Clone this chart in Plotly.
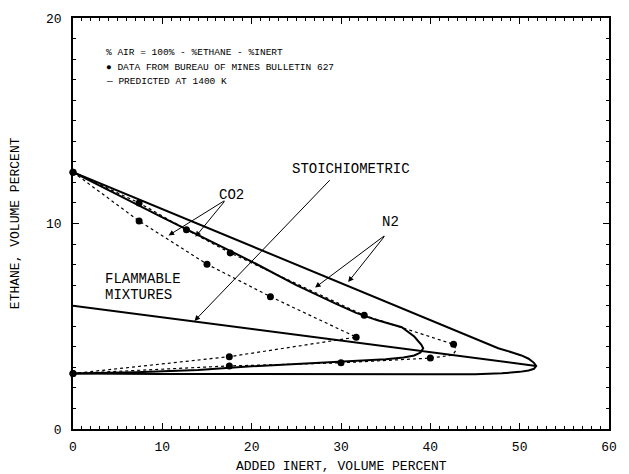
import plotly.graph_objects as go

# ---- predicted flammability envelopes at 1400 K (inert %, ethane %) ----
n2_pred_x = [0, 10, 20, 30, 40, 45, 47.6, 49.0, 50.2, 51.0, 51.6, 51.85,
             51.6, 51.0, 50.0, 48.0, 45.0, 40.0, 30.0, 20.0, 10.0, 0]
n2_pred_y = [12.5, 10.7, 8.9, 7.1, 5.3, 4.4, 3.93, 3.75, 3.58, 3.42, 3.22, 3.07,
             2.93, 2.85, 2.78, 2.71, 2.67, 2.66, 2.66, 2.67, 2.68, 2.7]

co2_pred_x = [0, 10, 20, 25, 29.4, 31.7, 34.0, 36.8, 38.2, 39.0, 39.2,
              38.9, 38.2, 37.0, 35.0, 31.7, 28.0, 24.0, 20.0, 14.0, 7.0, 0]
co2_pred_y = [12.5, 10.3, 8.15, 7.0, 6.1, 5.65, 5.3, 4.95, 4.5, 4.1, 3.93,
              3.72, 3.58, 3.48, 3.4, 3.33, 3.25, 3.15, 3.05, 2.87, 2.76, 2.7]

# ---- Bureau of Mines Bulletin 627 measurements ----
n2_data_x = [0, 7.4, 12.7, 17.6, 32.6, 42.6, 40.0, 30.0, 17.5, 0]
n2_data_y = [12.5, 11.0, 9.7, 8.57, 5.53, 4.12, 3.45, 3.22, 3.07, 2.7]
# dotted path around the N2 nose
n2_path_x = [0, 7.4, 12.7, 17.6, 32.6, 42.6, 42.9, 42.5, 40.0, 30.0, 17.5, 0]
n2_path_y = [12.5, 11.0, 9.7, 8.57, 5.53, 4.12, 3.85, 3.6, 3.45, 3.22, 3.07, 2.7]

co2_data_x = [0, 7.4, 15.0, 22.1, 31.7, 17.5, 0]
co2_data_y = [12.5, 10.12, 8.02, 6.44, 4.47, 3.52, 2.7]

# ---- stoichiometric line ----
stoich_x = [0, 51.85]
stoich_y = [6.0, 3.07]

# ---- annotation text and arrow geometry (data units) ----
legend_lines = ["% AIR = 100% - %ETHANE - %INERT",
                "\u25cf DATA FROM BUREAU OF MINES BULLETIN 627",
                "\u2014 PREDICTED AT 1400 K"]
legend_x = 3.5
legend_y = [18.3, 17.6, 16.9]

arrows = [  # (tail_x, tail_y, head_x, head_y)
    (17.1, 11.15, 10.7, 9.42),   # CO2 -> data
    (17.1, 11.15, 13.7, 9.35),   # CO2 -> predicted
    (28.9, 12.18, 13.6, 5.26),   # stoichiometric
    (35.0, 9.45, 27.1, 6.88),    # N2 -> data
    (35.0, 9.45, 30.8, 7.15),    # N2 -> predicted
]

MONO = "Liberation Mono, Courier New, monospace"

fig = go.Figure()

solid = dict(color="black", width=2)
dotted = dict(color="black", width=1.2, dash="dot")

fig.add_trace(go.Scatter(x=n2_pred_x, y=n2_pred_y, mode="lines", line=solid))
fig.add_trace(go.Scatter(x=co2_pred_x, y=co2_pred_y, mode="lines", line=solid))
fig.add_trace(go.Scatter(x=stoich_x, y=stoich_y, mode="lines", line=solid))
fig.add_trace(go.Scatter(x=n2_path_x, y=n2_path_y, mode="lines", line=dotted))
fig.add_trace(go.Scatter(x=co2_data_x, y=co2_data_y, mode="lines", line=dotted))
fig.add_trace(go.Scatter(x=n2_data_x + co2_data_x, y=n2_data_y + co2_data_y,
                         mode="markers", marker=dict(color="black", size=7),
                         cliponaxis=False))

annotations = []
for tx, ty, hx, hy in arrows:
    annotations.append(dict(x=hx, y=hy, ax=tx, ay=ty, xref="x", yref="y",
                            axref="x", ayref="y", text="", showarrow=True,
                            arrowhead=2, arrowsize=1.1, arrowwidth=1,
                            arrowcolor="black"))

for txt, yy in zip(legend_lines, legend_y):
    annotations.append(dict(x=legend_x, y=yy, xref="x", yref="y", text=txt,
                            showarrow=False, xanchor="left", yanchor="middle",
                            font=dict(family=MONO, size=9.5, color="black")))

big = dict(family=MONO, size=14, color="black")
annotations += [
    dict(x=17.7, y=11.4, text="CO2", showarrow=False, font=big),
    dict(x=24.3, y=12.65, text="STOICHIOMETRIC", showarrow=False,
         xanchor="left", font=big),
    dict(x=35.5, y=10.05, text="N2", showarrow=False, font=big),
    dict(x=3.4, y=7.28, text="FLAMMABLE", showarrow=False, xanchor="left", font=big),
    dict(x=3.4, y=6.5, text="MIXTURES", showarrow=False, xanchor="left", font=big),
    dict(x=0.5, y=-0.091, xref="paper", yref="paper", xanchor="center",
         yanchor="middle", text="ADDED INERT, VOLUME PERCENT", showarrow=False,
         font=dict(family=MONO, size=13, color="black")),
    dict(x=-0.107, y=0.5, xref="paper", yref="paper", xanchor="center",
         yanchor="middle", textangle=-90,
         text="ETHANE, VOLUME PERCENT", showarrow=False,
         font=dict(family=MONO, size=13, color="black")),
]
for a in annotations:
    a.setdefault("xref", "x")
    a.setdefault("yref", "y")

axis_common = dict(showline=True, linecolor="black", linewidth=1.6, mirror="ticks",
                   ticks="inside", ticklen=6, tickwidth=1.2, tickcolor="black",
                   showgrid=False, zeroline=False,
                   tickfont=dict(family=MONO, size=13, color="black"),
                   minor=dict(ticks="inside", ticklen=3, tickwidth=1,
                              tickcolor="black", dtick=1, showgrid=False))

fig.update_layout(
    width=629, height=474,
    margin=dict(l=73, r=13, t=17, b=45),
    paper_bgcolor="white", plot_bgcolor="white",
    showlegend=False,
    xaxis=dict(range=[0, 60], dtick=10, ticklabelstandoff=5, **axis_common),
    yaxis=dict(range=[0, 20], dtick=10, ticklabelstandoff=7, **axis_common),
    annotations=annotations,
)

fig.write_html("out.html")
